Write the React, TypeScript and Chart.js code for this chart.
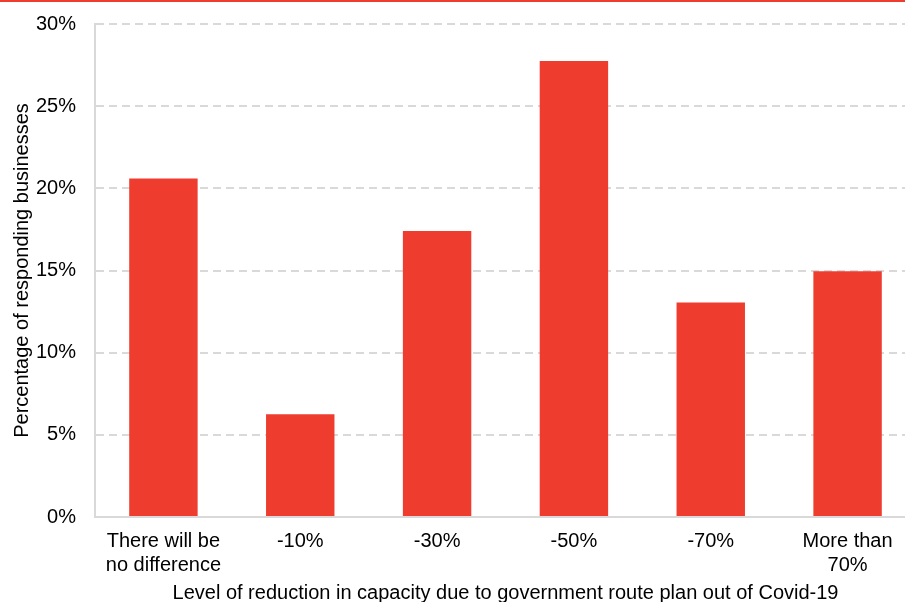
import React, { useEffect, useRef } from "react";
import { Chart, registerables } from "chart.js";

Chart.register(...registerables);

const categories: (string | string[])[] = [
  ["There will be", "no difference"],
  "-10%",
  "-30%",
  "-50%",
  "-70%",
  ["More than", "70%"],
];
const shares: number[] = [20.6, 6.25, 17.4, 27.75, 13.05, 14.95];
const yTicks: number[] = [0, 5, 10, 15, 20, 25, 30];

const RED = "#EE3C2F";
const GRID = "#D9D9D9";
const FONT = "'Liberation Sans', Arial, sans-serif";
const FS = 20;

export default function App() {
  const ref = useRef<HTMLCanvasElement | null>(null);

  useEffect(() => {
    if (!ref.current) return;
    const chart = new Chart(ref.current, {
      type: "bar",
      data: {
        labels: categories,
        datasets: [
          {
            data: shares,
            backgroundColor: RED,
            borderWidth: 0,
            barPercentage: 0.5,
            categoryPercentage: 1,
          },
        ],
      },
      options: {
        animation: false,
        responsive: false,
        layout: { padding: { top: 24, right: 4, left: 0, bottom: 0 } },
        plugins: { legend: { display: false }, tooltip: { enabled: false } },
        scales: {
          x: {
            grid: { display: false, drawTicks: false },
            border: { display: true, color: GRID, width: 2 },
            ticks: {
              color: "#000",
              font: { family: FONT, size: FS, lineHeight: 1.17 },
              padding: 13,
              maxRotation: 0,
              autoSkip: false,
            },
            title: {
              display: true,
              text: "Level of reduction in capacity due to government route plan out of Covid-19",
              color: "#000",
              font: { family: FONT, size: FS },
              padding: { top: 0, bottom: 15 },
            },
            afterFit: (s: any) => {
              s.height = 103;
              s.paddingLeft = 0;
              s.paddingRight = 0;
            },
          },
          y: {
            min: 0,
            max: 30,
            afterBuildTicks: (s: any) => {
              s.ticks = yTicks.map((v) => ({ value: v }));
            },
            grid: { color: GRID, lineWidth: 2, drawTicks: false },
            border: { display: true, color: GRID, width: 2, dash: [8, 5] },
            ticks: {
              color: "#000",
              font: { family: FONT, size: FS },
              padding: 19,
              callback: (v: any) => v + "%",
            },
            title: {
              display: true,
              text: "Percentage of responding businesses",
              color: "#000",
              font: { family: FONT, size: FS },
              padding: { top: 10, bottom: 0 },
            },
            afterFit: (s: any) => {
              s.width = 95;
              s.paddingTop = 0;
              s.paddingBottom = 0;
            },
          },
        },
      },
    });
    return () => chart.destroy();
  }, []);

  return (
    <div
      style={{
        position: "absolute",
        left: 0,
        top: 0,
        width: 905,
        height: 602,
        overflow: "hidden",
        background: "#fff",
      }}
    >
      <canvas ref={ref} width={920} height={620} style={{ display: "block" }} />
      <div
        style={{
          position: "absolute",
          left: 0,
          top: 0,
          width: 905,
          height: 2,
          background: RED,
        }}
      />
    </div>
  );
}
